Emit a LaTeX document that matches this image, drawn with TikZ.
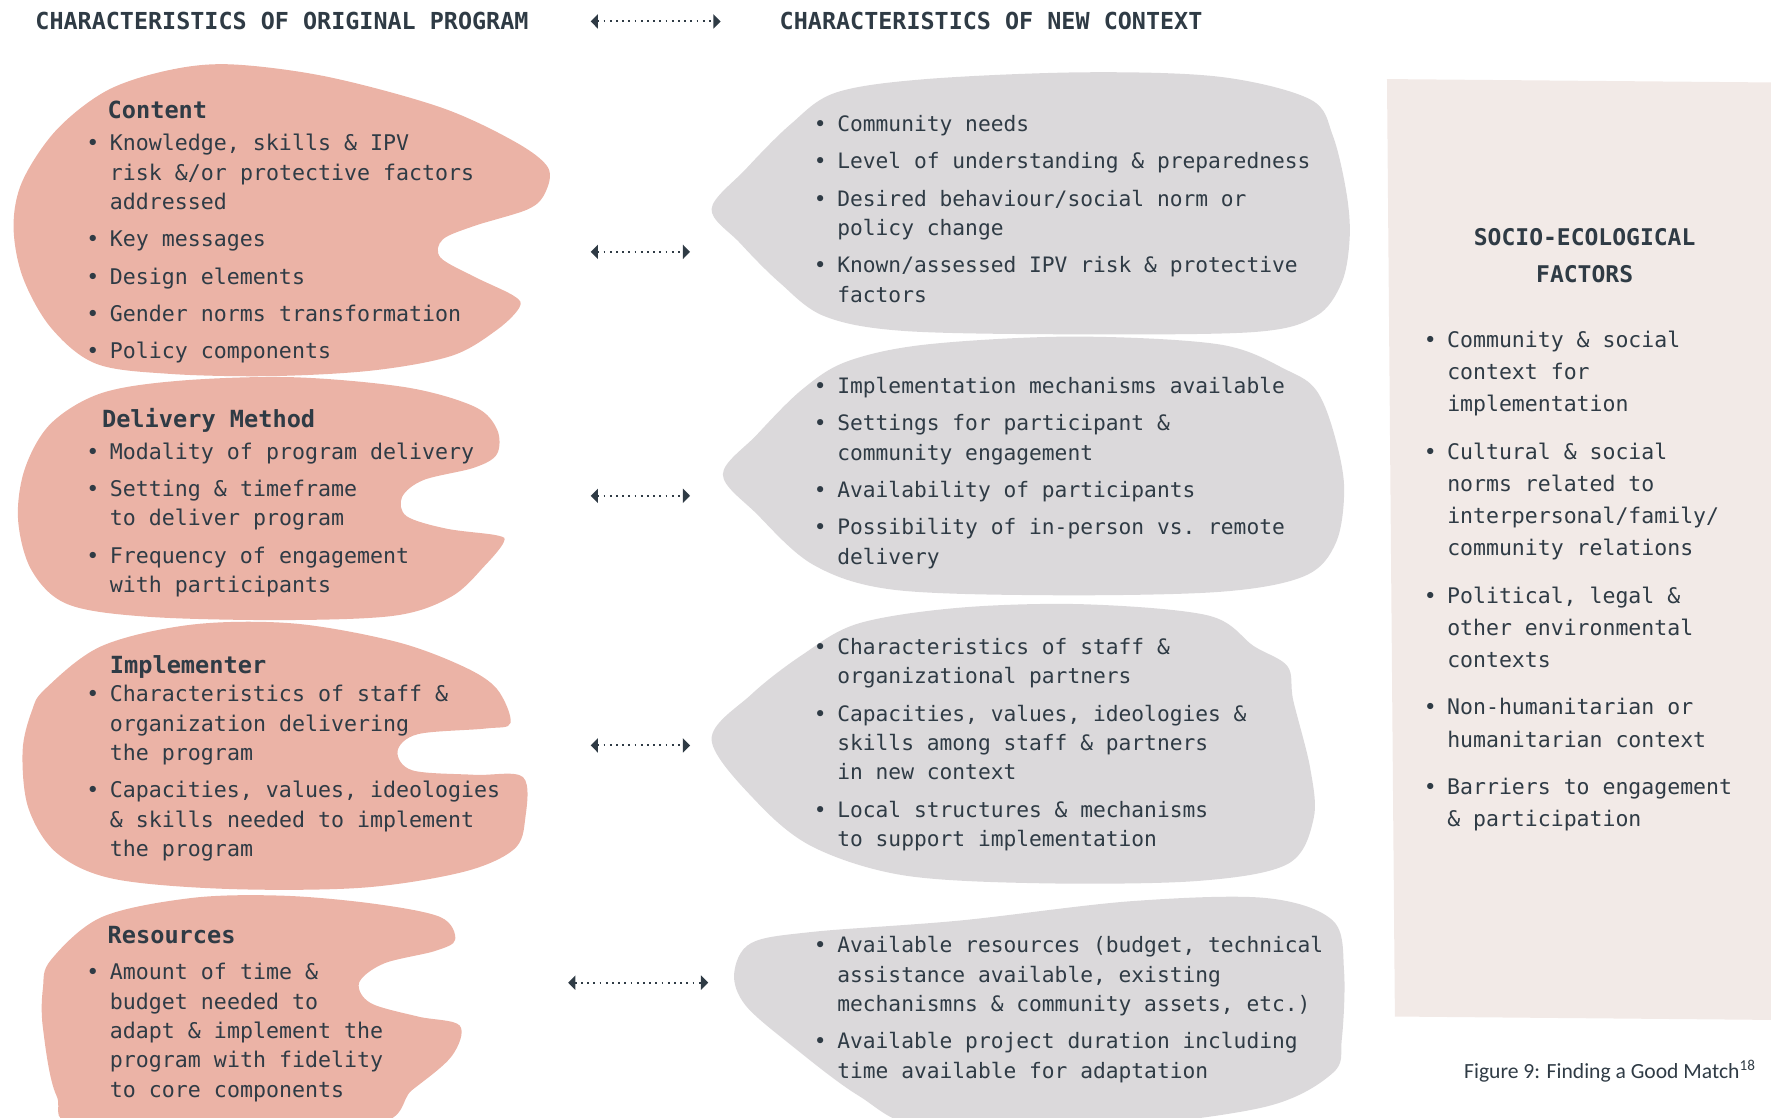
\documentclass[tikz,border=0pt]{standalone}
\usepackage{fontspec}
\setmainfont{DejaVu Sans Mono}
\newfontfamily\capfont{Carlito}
\usepackage{xcolor}
\usetikzlibrary{arrows.meta,positioning}

\definecolor{ink}{HTML}{2F3B45}
\definecolor{pinkblob}{HTML}{EBB3A6}
\definecolor{grayblob}{HTML}{DBD9DB}
\definecolor{panel}{HTML}{F2EAE7}

% one bullet item, hanging indent
\newcommand\bul{\par\hangindent=11.75pt\hangafter=1\noindent\makebox[11.75pt][l]{\textbullet}}
\newcommand\blist[2]{\parbox[t]{12cm}{\frenchspacing\setlength\parskip{#1}#2}}

\begin{document}
\begin{tikzpicture}[x=0.5647pt, y=-0.5647pt,
		toph/.style={anchor=base west, inner sep=0, text=ink, font=\bfseries\fontsize{11.7}{14}\selectfont},
		head/.style={anchor=base west, inner sep=0, text=ink, font=\bfseries\fontsize{11.8}{14}\selectfont},
		body/.style={anchor=base west, inner sep=0, text=ink, font=\fontsize{10.8}{14.68}\selectfont},
		ctx/.style={body, font=\fontsize{10.62}{14.68}\selectfont},
		side/.style={anchor=base west, inner sep=0, text=ink, font=\fontsize{10.75}{16.1}\selectfont},
		dotarrow/.style={{Triangle[length=3.6pt,width=7pt]}-{Triangle[length=3.6pt,width=7pt]}, draw=ink, line width=1pt, dash pattern=on 0.9pt off 2.2pt},
		blob/.style={smooth cycle, tension=0.55}]
\useasboundingbox (0,0) rectangle (1568,989);

% blobs of the original program
\fill[pinkblob] plot[blob] coordinates {(95,80) (150,62) (205,57) (290,68) (390,95) (455,125) (485,148) (483,170) (468,185) (420,200) (392,212) (390,228) (420,245) (455,262) (460,272) (440,292) (400,315) (330,328) (240,333) (150,331) (85,322) (45,290) (20,245) (12,200) (20,160) (50,115)};
\fill[pinkblob] plot[blob] coordinates {(45,375) (90,348) (160,337) (260,334) (360,343) (420,360) (440,380) (440,402) (420,414) (375,425) (356,440) (360,457) (395,468) (440,474) (446,480) (430,500) (400,528) (350,545) (250,549) (130,546) (60,535) (28,505) (16,460) (22,415)};
\fill[pinkblob] plot[blob] coordinates {(40,610) (90,572) (170,553) (260,552) (350,568) (410,590) (440,610) (452,640) (430,645) (370,650) (352,665) (365,682) (420,686) (463,688) (465,725) (455,752) (410,772) (320,786) (200,787) (100,778) (50,755) (25,715) (20,665) (28,630)};
\fill[pinkblob] plot[blob] coordinates {(45,850) (90,812) (170,795) (250,793) (330,800) (390,812) (403,832) (385,842) (340,853) (318,870) (328,888) (370,900) (407,908) (400,935) (365,965) (320,998) (80,998) (50,970) (38,910) (38,875)};

% blobs of the new context
\fill[grayblob] plot[blob] coordinates {(630,185) (660,150) (700,110) (740,82) (820,70) (960,64) (1080,68) (1160,88) (1180,120) (1192,170) (1195,210) (1188,250) (1165,280) (1110,294) (950,296) (800,293) (730,280) (690,250) (655,215)};
\fill[grayblob] plot[blob] coordinates {(640,420) (670,385) (710,345) (750,320) (820,305) (950,298) (1080,305) (1140,328) (1165,345) (1180,380) (1190,430) (1183,480) (1155,510) (1080,524) (930,527) (790,522) (720,500) (670,455)};
\fill[grayblob] plot[blob] coordinates {(630,655) (665,615) (710,580) (760,552) (850,538) (960,535) (1070,545) (1110,572) (1140,590) (1145,620) (1160,680) (1163,725) (1140,765) (1060,780) (920,782) (800,775) (720,750) (670,710)};
\fill[grayblob] plot[blob] coordinates {(650,862) (665,835) (720,825) (850,815) (1000,798) (1120,795) (1180,815) (1190,860) (1188,920) (1180,950) (1120,980) (980,998) (820,998) (760,970) (700,925) (660,890)};

\fill[panel] (1228,70) -- (1568,73) -- (1568,903) -- (1235,900) -- cycle;

% headings
\node[toph] (orighead) at (31,26.5) {CHARACTERISTICS OF ORIGINAL PROGRAM};
\node[toph] (newhead) at (690,26.5) {CHARACTERISTICS OF NEW CONTEXT};

% original program
\node[head] (content) at (95,104.5) {Content};
\node[body] (contentlist) at (76.2,133.5) {\blist{3.95pt}{%
	\bul Knowledge, skills \& IPV\\risk \&/or protective factors\\addressed
	\bul Key messages
	\bul Design elements
	\bul Gender norms transformation
	\bul Policy components}};

\node[head] (delivery) at (90,378.5) {Delivery Method};
\node[body] (deliverylist) at (76.2,406.5) {\blist{3.95pt}{%
	\bul Modality of program delivery
	\bul Setting \& timeframe\\to deliver program
	\bul Frequency of engagement\\with participants}};

\node[head] (implementer) at (97,596.5) {Implementer};
\node[body] (implementerlist) at (76.2,621.5) {\blist{3.95pt}{%
	\bul Characteristics of staff \&\\organization delivering\\the program
	\bul Capacities, values, ideologies\\\& skills needed to implement\\the program}};

\node[head] (resources) at (95,835.5) {Resources};
\node[body] (resourceslist) at (76.2,867.5) {\blist{3.95pt}{%
	\bul Amount of time \&\\budget needed to\\adapt \& implement the\\program with fidelity\\to core components}};

% new context
\node[ctx] (needslist) at (720.2,116.5) {\blist{3.95pt}{%
	\bul Community needs
	\bul Level of understanding \& preparedness
	\bul Desired behaviour/social norm or\\policy change
	\bul Known/assessed IPV risk \& protective\\factors}};

\node[ctx] (mechlist) at (720.2,348.5) {\blist{3.95pt}{%
	\bul Implementation mechanisms available
	\bul Settings for participant \&\\community engagement
	\bul Availability of participants
	\bul Possibility of in-person vs. remote\\delivery}};

\node[ctx] (stafflist) at (720.2,579.5) {\blist{3.95pt}{%
	\bul Characteristics of staff \&\\organizational partners
	\bul Capacities, values, ideologies \&\\skills among staff \& partners\\in new context
	\bul Local structures \& mechanisms\\to support implementation}};

\node[ctx] (fundlist) at (720.2,843.5) {\blist{3.95pt}{%
	\bul Available resources (budget, technical\\assistance available, existing\\mechanismns \& community assets, etc.)
	\bul Available project duration including\\time available for adaptation}};

% socio-ecological factors
\node[head, anchor=base, font=\bfseries\fontsize{11.5}{18.6}\selectfont] (sefhead) at (1403,217.5) {\parbox[t]{6cm}{\centering SOCIO-ECOLOGICAL\\FACTORS}};
\node[side] (seflist) at (1260.2,307.5) {\blist{7.6pt}{%
	\bul Community \& social\\context for\\implementation
	\bul Cultural \& social\\norms related to\\interpersonal/family/\\community relations
	\bul Political, legal \&\\other environmental\\contexts
	\bul Non-humanitarian or\\humanitarian context
	\bul Barriers to engagement\\\& participation}};

\node[anchor=base east, inner sep=0, text=ink, font=\capfont\fontsize{10.8}{13}\selectfont] (caption) at (1555,955) {Figure 9: Finding a Good Match\textsuperscript{18}};

% matching arrows
\coordinate (top l) at (523,19);
\coordinate (top r) at (638,19);
\draw[dotarrow] (top l) -- (top r);
\foreach \y/\n in {223/1, 439/2, 660/3} {
	\coordinate (row\n l) at (523,\y);
	\coordinate (row\n r) at (611,\y);
	\draw[dotarrow] (row\n l) -- (row\n r);
}
\coordinate (row4 l) at (503,870);
\coordinate (row4 r) at (627,870);
\draw[dotarrow] (row4 l) -- (row4 r);

\end{tikzpicture}
\end{document}
